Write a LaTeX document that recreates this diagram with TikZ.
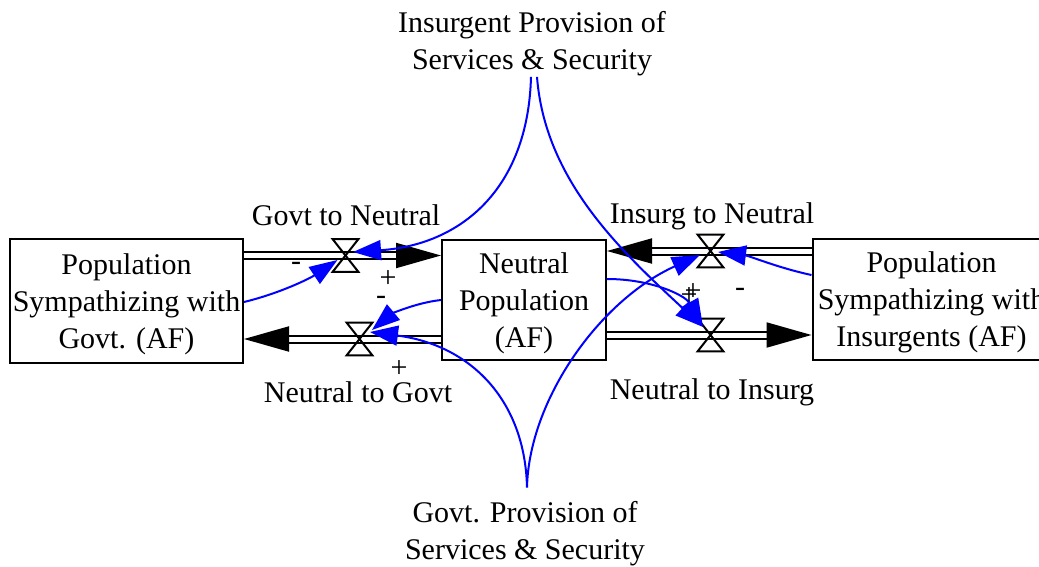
\documentclass[tikz,border=0pt]{standalone}
\usepackage{fontspec}
\setmainfont{Liberation Serif}
\usetikzlibrary{arrows.meta}
\definecolor{linkblue}{RGB}{0,0,255}

\begin{document}
\begin{tikzpicture}[
    x=0.5pt, y=-0.5pt,
    font=\fontsize{15}{18.5}\selectfont,
    stock/.style={draw, line width=1pt, align=center, inner sep=0pt,
                  text height=50.7pt, text depth=3.3pt},
    valve/.style={minimum width=12.5pt, minimum height=16pt, inner sep=0pt},
    pipe/.style={double, double distance=2.5pt, line width=1pt},
    flow/.style={pipe, -{Triangle[length=22.5pt, width=12.5pt]}},
    link/.style={line width=1pt, color=linkblue, -{Triangle[length=14pt, width=10pt]}},
    lbl/.style={align=center, inner sep=0pt},
    pol/.style={inner sep=0pt},
  ]
  \useasboundingbox (0,0) rectangle (1039,567);

  \node[stock, minimum width=116.5pt, minimum height=62pt] (govt) at (126.5,301)
    {Population\\Sympathizing with\\Govt. (AF)};
  \node[stock, minimum width=82pt, minimum height=60pt] (neutral) at (524,300)
    {Neutral\\Population\\(AF)};
  \node[stock, minimum width=119pt, minimum height=60.5pt] (insurg) at (931.5,299.5)
    {Population\\Sympathizing with\\Insurgents (AF)};

  \node[lbl, anchor=base] (ipss) at (532,70)
    {Insurgent Provision of\\Services \& Security};
  \node[lbl, anchor=base] (gpss) at (525,559)
    {Govt. Provision of\\Services \& Security};

  \node[valve] (gtn) at (345.5,255.5) {};
  \node[valve] (ntg) at (359.5,339) {};
  \node[valve] (itn) at (710.5,251) {};
  \node[valve] (nti) at (710.5,335) {};

  \node[lbl, anchor=base] (gtnlbl) at (346,226) {Govt to Neutral};
  \node[lbl, anchor=base] (ntglbl) at (358,402) {Neutral to Govt};
  \node[lbl, anchor=base] (itnlbl) at (712,223) {Insurg to Neutral};
  \node[lbl, anchor=base] (ntilbl) at (712,399) {Neutral to Insurg};

  \draw[flow] (govt.east |- gtn)    -- (neutral.west |- gtn);
  \draw[flow] (neutral.west |- ntg) -- (govt.east |- ntg);
  \draw[flow] (insurg.west |- itn)  -- (neutral.east |- itn);
  \draw[flow] (neutral.east |- nti) -- (insurg.west |- nti);

  \foreach \v in {gtn, ntg, itn, nti}
    \draw[line width=1pt] (\v.north west) -- (\v.north east)
      -- (\v.south west) -- (\v.south east) -- cycle;

  \draw[link] ([xshift=-0.5pt]ipss.south) .. controls +(-3,113) and +(107,-7)
    .. ([shift={(7.5,-3.5)}]gtn.center);
  \draw[link] ([xshift=2.5pt]ipss.south) .. controls +(8,103) and +(-83,-77)
    .. ([shift={(-7.5,-8)}]nti.center);
  \draw[link] ([xshift=1pt, yshift=6.5pt]gpss.north) .. controls +(-2,-88) and +(100,13)
    .. ([shift={(10.5,-7)}]ntg.center);
  \draw[link] ([xshift=1pt, yshift=6.5pt]gpss.north) .. controls +(2,-88) and +(-100,45)
    .. ([shift={(-10.5,4)}]itn.center);
  \draw[link] ([yshift=-0.5pt]govt.east) .. controls +(37,-9) and +(-27,18)
    .. ([shift={(-8,4.5)}]gtn.center);
  \draw[link] (neutral.west) .. controls +(-27,3) and +(18,-15)
    .. ([shift={(12.5,-9)}]ntg.center);
  \draw[link] ([yshift=10.5pt]neutral.east) .. controls +(44,0) and +(-18,-32)
    .. ([shift={(-7.5,-8)}]nti.center);
  \draw[link] ([yshift=12.25pt]insurg.west) .. controls +(-33,-7) and +(32,4)
    .. ([shift={(7.5,1)}]itn.center);

  \node[pol] (p1) at (296,266) {-};
  \node[pol] (p2) at (388,279) {+};
  \node[pol] (p3) at (381,300) {-};
  \node[pol] (p4) at (399,369) {+};
  \node[pol] (p5) at (689,296) {+};
  \node[pol] (p6) at (693,292) {+};
  \node[pol] (p7) at (740,292) {-};
\end{tikzpicture}
\end{document}
